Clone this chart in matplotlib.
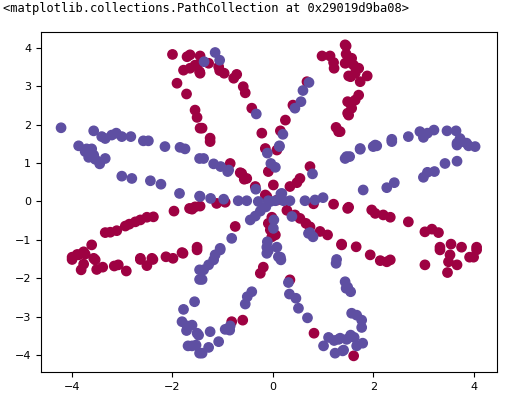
import numpy as np
import matplotlib
matplotlib.use('Agg')
import matplotlib.pyplot as plt

# points, class 0 (red)
red_x = [-2.00, -1.71, -1.78, -1.65, -1.51, -1.46, -1.91, -1.72, -1.55, -1.51, -1.45,
         -1.65, -1.45, -1.55, -1.45, -1.28, -1.08, -1.06, -0.97, -0.78, -0.72, -0.59,
         -0.55, -0.42, -0.22, -1.41, -1.25, -1.25, -0.15, -0.85, -0.65, -0.62, -0.57,
         -0.52, -0.35, -0.09, -0.15, -0.12, 0.01,
         0.25, 0.15, 0.08, 0.68, 0.40, 0.98, 1.14, 1.21, 1.22, 1.44, 1.46, 1.44, 1.51,
         1.49, 1.49, 1.26, 1.31, 1.46, 1.57, 1.46, 1.61, 1.71, 1.64, 1.55, 1.74, 1.88,
         1.71, 1.64, 1.54, 1.57, 1.51, 1.34, 0.74, 0.54, 0.48, 0.34, 0.09,
         -1.97, -1.66, -1.55, -1.61, -1.45, -1.12, -0.95, -2.38, -2.51, -2.64, -2.74,
         -2.86, -2.94, -3.11, -3.24, -3.34, -3.61, -3.77, -3.90, -4.00, -3.57, -2.64,
         -2.41, -2.13, -1.81, -1.51, -4.00, -3.87, -3.74, -3.77, -3.82, -3.54, -3.51,
         -3.39, -3.16, -3.08, -2.92, -2.64, -2.51, -2.39, -1.99, -1.79, -1.51, -0.75,
         -0.02, -0.05, 0.05, -0.09, -0.02,
         -0.82, -0.60, -0.25, -0.19, 0.34, 0.82, 1.61,
         1.21, 1.49, 0.81, 0.28, 0.44, 0.54, 0.66, 0.74, 0.94, 1.09, 1.37, 1.51, 1.97,
         2.04, 2.20, 2.34, 2.70, 3.03, 3.17, 3.30, 1.37, 1.66, 1.94, 3.33, 3.55, 3.76,
         4.06, 2.14, 2.27, 2.34, 3.03, 3.33, 3.53, 3.50, 3.67, 3.48, 3.92, 4.00, 4.06]
red_y = [3.83, 3.77, 3.42, 3.47, 3.55, 3.38, 3.08, 2.80, 2.38, 2.19, 1.91,
         3.82, 3.79, 3.55, 3.34, 3.60, 3.51, 3.41, 3.34, 3.21, 3.31, 2.99,
         2.83, 2.43, 1.78, 1.91, 1.65, 1.56, 1.38, 0.99, 0.75, 0.73, 0.58,
         0.60, 0.39, 0.78, 0.17, 0.13, 0.43,
         2.12, 1.84, 1.34, 3.12, 2.51, 3.79, 3.79, 3.62, 3.47, 4.08, 3.84, 3.60, 3.27,
         2.60, 2.30, 1.93, 1.82, 4.05, 3.73, 3.61, 3.55, 3.47, 3.34, 3.25, 3.12, 3.27,
         2.77, 2.64, 2.56, 2.43, 2.25, 1.82, 0.91, 0.60, 0.49, 0.39, 0.04,
         -0.25, -0.18, -0.14, -0.20, -0.12, -0.05, -0.02, -0.40, -0.41, -0.48, -0.53,
         -0.59, -0.64, -0.76, -0.80, -0.81, -1.13, -1.31, -1.38, -1.45, -1.48, -1.48,
         -1.48, -1.44, -1.33, -1.19, -1.51, -1.39, -1.37, -1.63, -1.78, -1.52, -1.77,
         -1.71, -1.68, -1.65, -1.81, -1.51, -1.67, -1.51, -1.48, -1.35, -1.26, -0.65,
         -0.41, -0.74, -0.87, -0.57, -0.92,
         -3.13, -3.09, -1.87, -1.71, -2.04, -3.43, -4.02,
         -0.07, -0.18, -0.06, -0.23, -0.35, -0.44, -0.57, -0.66, -0.78, -0.87, -1.11, -0.15, -0.22,
         -0.31, -0.35, -0.41, -0.53, -0.79, -0.72, -0.81, -1.13, -1.18, -1.39, -1.19, -1.11, -1.19,
         -1.19, -1.54, -1.57, -1.52, -1.65, -1.26, -1.39, -1.57, -1.65, -1.85, -1.45, -1.45, -1.26]

# class 1 (blue)
blue_x = [-4.22, -3.57, -3.41, -3.34, -3.21, -3.12, -3.01, -2.83, -2.58, -2.48, -3.87,
          -3.71, -3.61, -2.15, -1.85, -1.75, -3.74, -3.64, -3.57, -3.67, -3.54, -3.45,
          -3.34, -1.46, -3.01, -2.81, -2.44, -2.23, -1.86, -1.46, -1.38, -1.18, -1.04,
          -0.90, -0.88, -0.34, -1.45, -1.24, -0.98, -0.69, -0.52, -0.29, -0.09, -0.05,
          -1.15, -1.06, -1.37, -0.33, 0.20, 0.13, 0.13, -0.11, -0.04, 0.05, 0.44, 0.56,
          0.60, 0.72, 0.79, 0.18, 0.16,
          0.05, 0.21, 0.34, 0.64, 0.84, 1.00, 1.47, 1.44, 1.53, 1.74, 2.00, 2.07, 2.37,
          3.67, 3.76, 3.90, 4.03, 3.43, 3.67, 3.22, 3.08, 3.00, 2.42, 2.27, 1.80, 1.74,
          2.04, 2.37, 2.70, 2.93, 3.08, 3.21, 3.00, 3.47, 3.65, 3.73, 3.86, 3.67,
          -0.45, -0.35, -0.25, -0.14, 0.02, 0.01, -0.82, -1.05, -1.15, -1.05, -1.18,
          -1.28, -1.38, -1.41, -1.46, -1.46, -1.56, -1.78, -1.81, -1.71, -1.61, -1.72,
          -1.51, -1.48, -1.69, -1.53, -1.46, -1.61, -1.41, -1.28, -1.25, -1.08, -0.95,
          -0.86, -0.85, -0.55, -0.51, -0.42,
          -0.11, -0.09, -0.12, 0.08, 0.15, -0.12, 0.11, 0.16, 0.31, 0.33, 0.46, 0.51,
          0.69, 1.26, 1.01, 1.11, 1.22, 1.31, 1.24, 1.41, 1.44, 1.46, 1.49, 1.55, 1.57,
          1.67, 1.77, 1.77, 1.34, 1.47, 1.55, 1.62, 1.67, 1.79, 1.39, 0.38, 0.71, 0.80,
          0.74, 1.27]
blue_y = [1.92, 1.84, 1.69, 1.64, 1.73, 1.78, 1.69, 1.69, 1.58, 1.58, 1.45,
          1.37, 1.37, 1.43, 1.41, 1.37, 1.30, 1.25, 1.21, 1.15, 1.10, 0.98,
          1.12, 1.12, 0.66, 0.60, 0.54, 0.45, 0.21, 0.14, 1.12, 0.98, 0.91,
          0.78, 0.82, 0.32, 0.13, 0.08, 0.06, 0.02, 0.02, 0.00, 0.02, 0.00,
          3.88, 3.68, 3.64, 2.28, 1.75, 1.45, 1.43, 1.26, 0.99, 0.89, 2.43, 2.60,
          2.89, 3.10, 0.72, 0.21, 0.20,
          0.02, 0.02, 0.02, 0.02, 0.04, 0.10, 1.17, 1.12, 1.17, 1.36, 1.43, 1.45, 1.56,
          1.52, 1.56, 1.45, 1.43, 0.99, 1.05, 0.78, 0.76, 0.63, 0.49, 0.36, 0.30, 1.38,
          1.47, 1.62, 1.69, 1.82, 1.78, 1.86, 1.67, 1.84, 1.84, 1.64, 1.52, 1.47,
          -0.48, -0.38, -0.25, -0.14, -0.48, -0.70, -0.96, -1.22, -1.39, -1.26, -1.52,
          -1.65, -1.78, -2.03, -1.78, -2.03, -2.61, -2.81, -3.13, -3.24, -3.22, -3.36,
          -3.43, -3.48, -3.76, -3.74, -3.95, -3.76, -3.95, -3.80, -3.39, -3.65, -3.33,
          -3.35, -3.24, -2.67, -2.48, -2.35,
          -1.05, -1.28, -1.19, -1.19, -1.45, -1.35, -1.44, -1.52, -2.11, -2.41, -2.52, -2.78,
          -3.03, -1.61, -3.76, -3.54, -3.62, -3.59, -3.95, -3.87, -2.09, -2.26, -2.23, -2.35, -2.91,
          -2.96, -3.09, -3.28, -3.56, -3.59, -3.48, -3.54, -3.76, -3.69, -3.89, -0.39, -0.83, -0.92,
          -0.81, -1.51]

X0 = np.array(red_x + blue_x)
X1 = np.array(red_y + blue_y)
Y = np.array([0] * len(red_x) + [1] * len(blue_x))

plt.rcParams['font.size'] = 8

fig = plt.figure(figsize=(5.08, 3.97), dpi=100)
ax = fig.add_axes([0.0807, 0.063, 0.898, 0.856])

ax.scatter(X0, X1, c=Y, s=45, cmap=plt.cm.Spectral)
ax.set_xlim(-4.62, 4.47)
ax.set_ylim(-4.44, 4.41)
ax.set_xticks([-4, -2, 0, 2, 4])
ax.set_yticks([-4, -3, -2, -1, 0, 1, 2, 3, 4])

# jupyter output line above the figure
fig.text(0.006, 1 - 8.5 / 397, '<matplotlib.collections.PathCollection at 0x29019d9ba08>',
         family='DejaVu Sans Mono', fontsize=8.7, va='center', ha='left')

fig.savefig('out.png', dpi=100)
